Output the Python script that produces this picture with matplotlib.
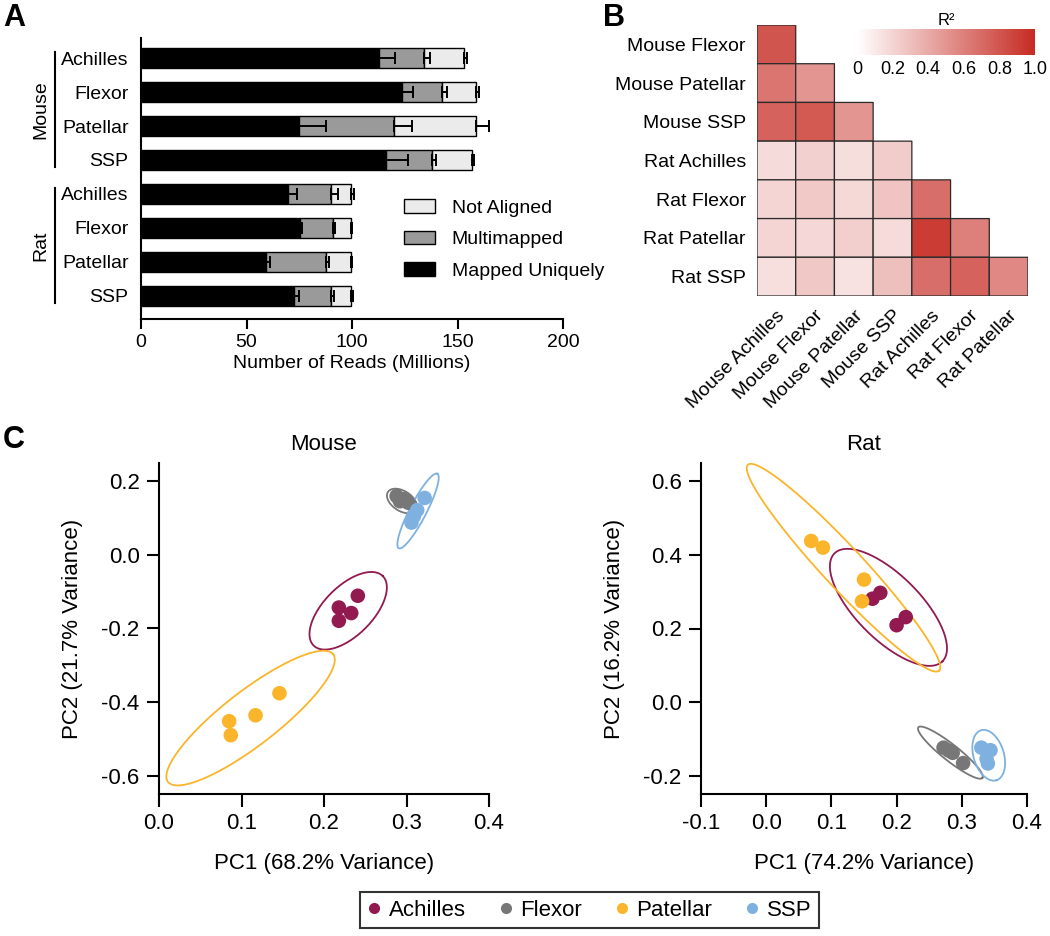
import numpy as np
import matplotlib
matplotlib.use('Agg')
import matplotlib.pyplot as plt
from matplotlib import transforms
from matplotlib.colors import LinearSegmentedColormap
from matplotlib.lines import Line2D

plt.rcParams['font.family'] = ['Liberation Sans', 'DejaVu Sans']

# ---------------- Panel A data ----------------
bar_labels = ['Achilles', 'Flexor', 'Patellar', 'SSP', 'Achilles', 'Flexor', 'Patellar', 'SSP']
species_groups = ['Mouse', 'Rat']
mapped_unique = [113.0, 123.9, 75.0, 116.1, 69.9, 75.5, 59.4, 72.6]
mapped_unique_err = [7.2, 5.1, 12.5, 10.5, 3.8, 0.7, 1.6, 2.4]
multimapped = [21.2, 18.9, 45.1, 21.9, 20.0, 15.3, 28.3, 17.3]
multimapped_err = [3.0, 2.4, 8.3, 1.6, 3.3, 1.3, 1.4, 1.4]
not_aligned = [18.7, 16.2, 38.9, 18.7, 9.6, 8.7, 11.8, 9.6]
not_aligned_err = [1.6, 1.4, 6.0, 1.1, 1.4, 0.5, 0.5, 1.0]

# ---------------- Panel B data ----------------
hm_rows = ['Mouse Flexor', 'Mouse Patellar', 'Mouse SSP', 'Rat Achilles',
           'Rat Flexor', 'Rat Patellar', 'Rat SSP']
hm_cols = ['Mouse Achilles', 'Mouse Flexor', 'Mouse Patellar', 'Mouse SSP',
           'Rat Achilles', 'Rat Flexor', 'Rat Patellar']
r2_row_mouse_flexor = [0.80]
r2_row_mouse_patellar = [0.65, 0.50]
r2_row_mouse_ssp = [0.74, 0.78, 0.50]
r2_row_rat_achilles = [0.17, 0.22, 0.16, 0.24]
r2_row_rat_flexor = [0.20, 0.25, 0.18, 0.28, 0.68]
r2_row_rat_patellar = [0.20, 0.19, 0.23, 0.17, 0.92, 0.60]
r2_row_rat_ssp = [0.15, 0.26, 0.14, 0.30, 0.68, 0.74, 0.56]
r2_rows = [r2_row_mouse_flexor, r2_row_mouse_patellar, r2_row_mouse_ssp,
           r2_row_rat_achilles, r2_row_rat_flexor, r2_row_rat_patellar, r2_row_rat_ssp]

# ---------------- Panel C data ----------------
tendons = ['Achilles', 'Flexor', 'Patellar', 'SSP']
tendon_colors = ['#921a50', '#777777', '#fbb52a', '#7fb1e0']

mouse_pc1 = {'Achilles': [0.241, 0.218, 0.233, 0.218],
             'Flexor': [0.288, 0.297, 0.292, 0.302],
             'Patellar': [0.146, 0.117, 0.085, 0.087],
             'SSP': [0.322, 0.313, 0.309, 0.306]}
mouse_pc2 = {'Achilles': [-0.111, -0.143, -0.158, -0.179],
             'Flexor': [0.160, 0.152, 0.146, 0.142],
             'Patellar': [-0.376, -0.436, -0.452, -0.490],
             'SSP': [0.155, 0.122, 0.105, 0.088]}
rat_pc1 = {'Achilles': [0.163, 0.175, 0.200, 0.214],
           'Flexor': [0.272, 0.280, 0.286, 0.302],
           'Patellar': [0.069, 0.087, 0.150, 0.147],
           'SSP': [0.330, 0.344, 0.338, 0.340]}
rat_pc2 = {'Achilles': [0.281, 0.297, 0.209, 0.231],
           'Flexor': [-0.124, -0.132, -0.138, -0.166],
           'Patellar': [0.438, 0.420, 0.333, 0.274],
           'SSP': [-0.124, -0.131, -0.154, -0.167]}
# ellipse: centre (x, y), major-axis tip (x, y), minor/major ratio
mouse_ell_center_x = [0.2293, 0.2945, 0.111, 0.314]
mouse_ell_center_y = [-0.1518, 0.1467, -0.4436, 0.1195]
mouse_ell_tip_x = [0.2712, 0.3115, 0.2111, 0.3374]
mouse_ell_tip_y = [-0.0573, 0.1222, -0.270, 0.2209]
mouse_ell_ratio = [0.50, 0.60, 0.26, 0.20]
rat_ell_center_x = [0.1875, 0.2825, 0.1186, 0.3413]
rat_ell_center_y = [0.2575, -0.1375, 0.3653, -0.1447]
rat_ell_tip_x = [0.2703, 0.3316, 0.2652, 0.3530]
rat_ell_tip_y = [0.1108, -0.2063, 0.0854, -0.2127]
rat_ell_ratio = [0.42, 0.20, 0.146, 0.58]

W, H = 1050, 936
fig = plt.figure(figsize=(W / 100, H / 100), dpi=100)


def fx(px):
    return px / W


def fy(py):
    return 1 - py / H


# ================= Panel A =================
axA = fig.add_axes([fx(141), fy(319), fx(563) - fx(141), fy(38) - fy(319)])
pos = np.arange(len(bar_labels))
mu = np.array(mapped_unique)
mm = np.array(multimapped)
na = np.array(not_aligned)
bh = 0.6
axA.barh(pos, mu, height=bh, color='black', edgecolor='black', linewidth=1, label='Mapped Uniquely', zorder=2)
axA.barh(pos, mm, left=mu, height=bh, color='#9a9a9a', edgecolor='black', linewidth=1, label='Multimapped', zorder=2)
axA.barh(pos, na, left=mu + mm, height=bh, color='#ebebeb', edgecolor='black', linewidth=1, label='Not Aligned', zorder=2)
for ends, err in [(mu, mapped_unique_err), (mu + mm, multimapped_err), (mu + mm + na, not_aligned_err)]:
    e = np.array(err)
    axA.errorbar(ends, pos, xerr=[np.zeros_like(e), e], fmt='none', ecolor='black',
                 elinewidth=1.4, capsize=4, capthick=1.4, zorder=3)
axA.set_xlim(0, 200)
axA.set_ylim(7.68, -0.59)
axA.set_xticks([0, 50, 100, 150, 200])
axA.set_yticks(pos)
axA.set_yticklabels(bar_labels)
axA.tick_params(axis='y', length=0, pad=9, labelsize=14)
axA.tick_params(axis='x', length=7, width=1.5, labelsize=14, pad=4)
for s in ['top', 'right']:
    axA.spines[s].set_visible(False)
for s in ['left', 'bottom']:
    axA.spines[s].set_linewidth(1.5)
axA.set_xlabel('Number of Reads (Millions)', fontsize=14, labelpad=3)
h, l = axA.get_legend_handles_labels()
axA.legend(h[::-1], l[::-1], loc='upper left', bbox_to_anchor=(fx(404), fy(199)),
           bbox_transform=fig.transFigure, frameon=False, fontsize=14,
           handlelength=1.6, handleheight=0.7, handletextpad=0.85, labelspacing=0.72,
           borderaxespad=0, borderpad=0)
# group brackets
bt = transforms.blended_transform_factory(fig.transFigure, axA.transData)
for gi, g in enumerate(species_groups):
    y0, y1 = gi * 4 - 0.18, gi * 4 + 3.2
    axA.plot([fx(55), fx(55)], [y0, y1], color='black', lw=1.5, transform=bt, clip_on=False)
    axA.text(fx(41), (y0 + y1) / 2, g, rotation=90, ha='center', va='center',
             fontsize=14, transform=bt)

# ================= Panel B =================
axB = fig.add_axes([fx(757), fy(296), fx(1028) - fx(757), fy(25) - fy(296)])
n = len(hm_rows)
mat = np.full((n, n), np.nan)
for i, row in enumerate(r2_rows):
    mat[i, :len(row)] = row
cmap = LinearSegmentedColormap.from_list('wr', ['#ffffff', '#c62b23'])
mesh = axB.pcolor(np.ma.masked_invalid(mat), cmap=cmap, vmin=0, vmax=1,
                  edgecolors='#2a2a2a', linewidths=0.9)
axB.set_xlim(0, n)
axB.set_ylim(n, 0)
for s in axB.spines.values():
    s.set_visible(False)
axB.set_yticks(np.arange(n) + 0.5)
axB.set_yticklabels(hm_rows, fontsize=14)
axB.set_xticks(np.arange(n) + 0.5)
axB.set_xticklabels(hm_cols, fontsize=14, rotation=45, ha='right', va='top', rotation_mode='anchor')
axB.tick_params(length=0, pad=8)

cax = fig.add_axes([fx(857), fy(55), fx(1035) - fx(857), fy(29) - fy(55)])
cb = fig.colorbar(mesh, cax=cax, orientation='horizontal')
cb.outline.set_visible(False)
cb.set_ticks([0, 0.2, 0.4, 0.6, 0.8, 1.0])
cb.set_ticklabels(['0', '0.2', '0.4', '0.6', '0.8', '1.0'])
cax.tick_params(length=0, labelsize=13, pad=4)
cax.set_title('R²', fontsize=12, pad=3)

# ================= Panel C =================
def draw_ellipse(ax, cx, cy, tx, ty, ratio, color):
    t = np.linspace(0, 2 * np.pi, 300)
    c = ax.transData.transform((cx, cy))
    tip = ax.transData.transform((tx, ty))
    u = tip - c
    v = np.array([-u[1], u[0]]) * ratio
    pts = c[None, :] + np.cos(t)[:, None] * u[None, :] + np.sin(t)[:, None] * v[None, :]
    d = ax.transData.inverted().transform(pts)
    ax.plot(d[:, 0], d[:, 1], color=color, lw=1.3, zorder=2, clip_on=False)


def pca_panel(rect, title, xlim, ylim, xticks, yticks, xlabel, ylabel,
              pc1, pc2, ecx, ecy, etx, ety, er):
    ax = fig.add_axes(rect)
    ax.set_xlim(*xlim)
    ax.set_ylim(*ylim)
    ax.set_xticks(xticks)
    ax.set_yticks(yticks)
    ax.xaxis.set_major_formatter(matplotlib.ticker.FormatStrFormatter('%.1f'))
    ax.yaxis.set_major_formatter(matplotlib.ticker.FormatStrFormatter('%.1f'))
    for s in ['top', 'right']:
        ax.spines[s].set_visible(False)
    for s in ['left', 'bottom']:
        ax.spines[s].set_linewidth(1.5)
    ax.tick_params(length=9, width=1.5, labelsize=16, pad=5)
    for k, t in enumerate(tendons):
        draw_ellipse(ax, ecx[k], ecy[k], etx[k], ety[k], er[k], tendon_colors[k])
    for k, t in enumerate(tendons):
        ax.scatter(pc1[t], pc2[t], s=110, color=tendon_colors[k], edgecolors='none', zorder=3)
    ax.set_title(title, fontsize=16, pad=9)
    ax.set_xlabel(xlabel, fontsize=16, labelpad=13)
    ax.set_ylabel(ylabel, fontsize=16, labelpad=13)
    return ax


pca_panel([fx(159), fy(794), fx(489) - fx(159), fy(463) - fy(794)], 'Mouse',
          (0, 0.4), (-0.65, 0.25), [0, 0.1, 0.2, 0.3, 0.4], [-0.6, -0.4, -0.2, 0.0, 0.2],
          'PC1 (68.2% Variance)', 'PC2 (21.7% Variance)', mouse_pc1, mouse_pc2,
          mouse_ell_center_x, mouse_ell_center_y, mouse_ell_tip_x, mouse_ell_tip_y, mouse_ell_ratio)
pca_panel([fx(701), fy(794), fx(1027) - fx(701), fy(463) - fy(794)], 'Rat',
          (-0.1, 0.4), (-0.25, 0.65), [-0.1, 0.0, 0.1, 0.2, 0.3, 0.4], [-0.2, 0.0, 0.2, 0.4, 0.6],
          'PC1 (74.2% Variance)', 'PC2 (16.2% Variance)', rat_pc1, rat_pc2,
          rat_ell_center_x, rat_ell_center_y, rat_ell_tip_x, rat_ell_tip_y, rat_ell_ratio)

handles = [Line2D([], [], marker='o', linestyle='none', markersize=8,
                  markerfacecolor=c, markeredgecolor='none') for c in tendon_colors]
leg = fig.legend(handles, tendons, loc='center left', bbox_to_anchor=(fx(360), fy(910)),
                 ncol=4, fontsize=16, frameon=True, fancybox=False, edgecolor='black',
                 handletextpad=0.35, columnspacing=1.5, handlelength=0.6, borderpad=0.35,
                 borderaxespad=0)
leg.get_frame().set_linewidth(1.5)

# panel letters
fig.text(fx(3), fy(18), 'A', fontsize=22, fontweight='bold', ha='left', va='center')
fig.text(fx(603), fy(18), 'B', fontsize=22, fontweight='bold', ha='left', va='center')
fig.text(fx(3), fy(440), 'C', fontsize=22, fontweight='bold', ha='left', va='center')

fig.savefig('out.png', dpi=100)
